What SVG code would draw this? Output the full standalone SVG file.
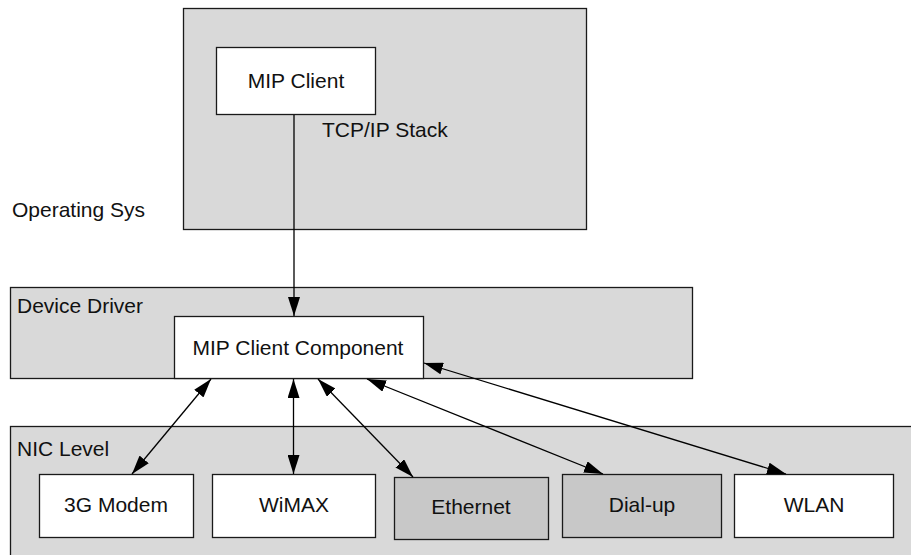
<svg xmlns="http://www.w3.org/2000/svg" width="911" height="555" viewBox="0 0 911 555">
<style>
.cont{fill:#d9d9d9;stroke:#1a1a1a;stroke-width:1.3}
.node{fill:#ffffff;stroke:#1a1a1a;stroke-width:1.3}
.dark{fill:#c8c8c8;stroke:#1a1a1a;stroke-width:1.3}
text{font-family:"Liberation Sans",Arial,sans-serif;font-size:21px;fill:#111}
.c{text-anchor:middle}
.edge{stroke:#000;stroke-width:1.3;fill:none}
</style>
<defs>
<marker id="ah" viewBox="0 0 19 12" refX="19" refY="6" markerWidth="19" markerHeight="12" markerUnits="userSpaceOnUse" orient="auto-start-reverse">
<path d="M0,0 L19,6 L0,12 z" fill="#000"/>
</marker>
</defs>
<g id="nic-level">
<rect class="cont" x="10.5" y="426.5" width="910" height="140"/>
<text x="17" y="456">NIC Level</text>
</g>
<g id="device-driver">
<rect class="cont" x="10.5" y="287.5" width="682" height="91"/>
<text x="17" y="313">Device Driver</text>
</g>
<g id="tcpip-stack">
<rect class="cont" x="183.5" y="8.5" width="403" height="221"/>
<text x="322" y="137">TCP/IP Stack</text>
</g>
<g id="operating-sys">
<text x="12" y="217">Operating Sys</text>
</g>
<g id="mip-client">
<rect class="node" x="216.5" y="47.5" width="159" height="67"/>
<text class="c" x="296" y="88">MIP Client</text>
</g>
<g id="mip-client-component">
<rect class="node" x="174.5" y="316.5" width="249" height="62"/>
<text class="c" x="298" y="355">MIP Client Component</text>
</g>
<g id="modem-3g">
<rect class="node" x="39.5" y="474.5" width="154" height="63"/>
<text class="c" x="116" y="512">3G Modem</text>
</g>
<g id="wimax">
<rect class="node" x="212.5" y="474.5" width="163" height="63"/>
<text class="c" x="294" y="512">WiMAX</text>
</g>
<g id="ethernet">
<rect class="dark" x="394.5" y="477.5" width="154" height="62"/>
<text class="c" x="471" y="514">Ethernet</text>
</g>
<g id="dialup">
<rect class="dark" x="562.5" y="474.5" width="159" height="63"/>
<text class="c" x="642" y="512">Dial-up</text>
</g>
<g id="wlan">
<rect class="node" x="734.5" y="474.5" width="159" height="63"/>
<text class="c" x="814" y="512">WLAN</text>
</g>
<g id="connectors">
<line class="edge" x1="294" y1="115" x2="294" y2="316" marker-end="url(#ah)"/>
<line class="edge" x1="211" y1="379" x2="132" y2="474" marker-start="url(#ah)" marker-end="url(#ah)"/>
<line class="edge" x1="293.5" y1="379" x2="293.5" y2="474" marker-start="url(#ah)" marker-end="url(#ah)"/>
<line class="edge" x1="318" y1="379" x2="413" y2="477" marker-start="url(#ah)" marker-end="url(#ah)"/>
<line class="edge" x1="367" y1="379" x2="603" y2="474" marker-start="url(#ah)" marker-end="url(#ah)"/>
<line class="edge" x1="424" y1="363" x2="786" y2="474" marker-start="url(#ah)" marker-end="url(#ah)"/>
</g>
</svg>
